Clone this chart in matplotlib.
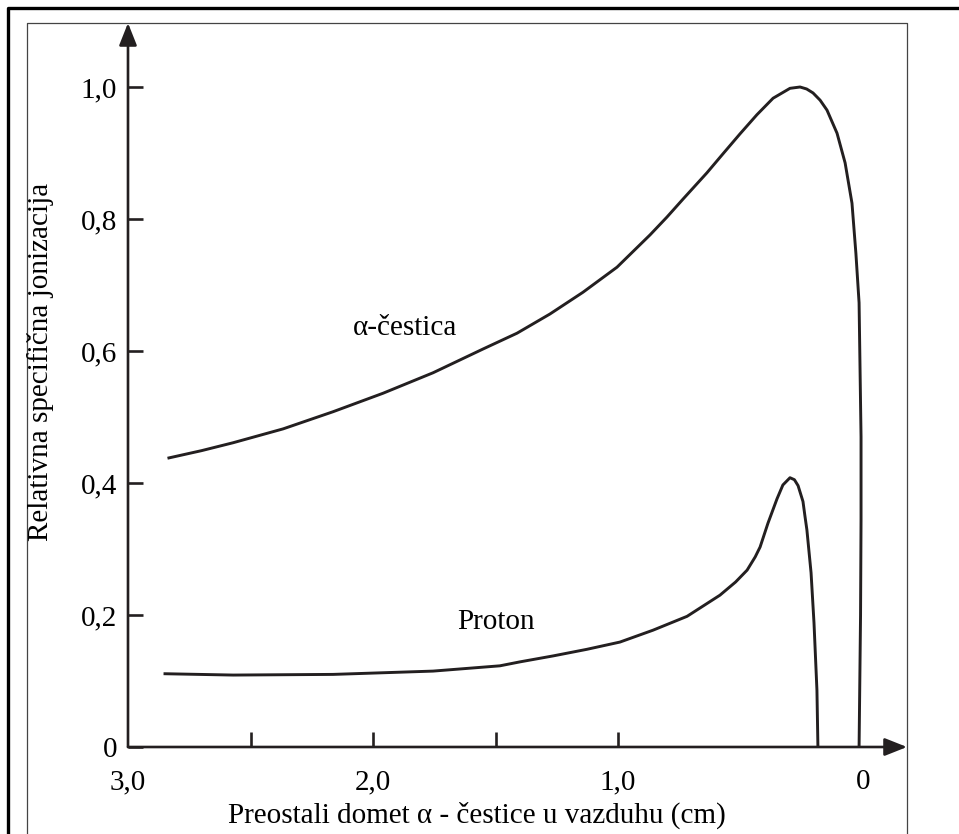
#!/usr/bin/env python3
"""
Relativna specifična jonizacija: α-čestica i proton (Braggove krive).
"""
import matplotlib
matplotlib.use("Agg")
import matplotlib.pyplot as plt
from matplotlib.lines import Line2D

plt.rcParams["font.family"] = ["Liberation Serif", "DejaVu Serif"]

# ===== podaci (očitani sa slike) =====
alpha_x = [2.833, 2.700, 2.571, 2.367, 2.163, 1.959, 1.755, 1.551, 1.412, 1.278,
           1.143, 1.004, 0.869, 0.800, 0.735, 0.637, 0.571, 0.502, 0.433, 0.367,
           0.298, 0.257, 0.230, 0.204, 0.175, 0.147, 0.106, 0.073, 0.045, 0.029,
           0.016, 0.012, 0.008, 0.008, 0.010, 0.016]
alpha_y = [0.438, 0.449, 0.461, 0.482, 0.508, 0.536, 0.567, 0.603, 0.627, 0.656,
           0.689, 0.727, 0.776, 0.803, 0.830, 0.870, 0.899, 0.929, 0.958, 0.983,
           0.998, 1.000, 0.997, 0.991, 0.980, 0.965, 0.930, 0.885, 0.824, 0.748,
           0.673, 0.571, 0.470, 0.344, 0.200, 0.0]

proton_x = [2.849, 2.571, 2.163, 1.755, 1.482, 1.400, 1.265, 1.127, 0.992, 0.857,
            0.718, 0.584, 0.520, 0.473, 0.440, 0.420, 0.388, 0.351, 0.327, 0.298,
            0.280, 0.265, 0.245, 0.237, 0.229, 0.212, 0.200, 0.188, 0.184]
proton_y = [0.111, 0.109, 0.110, 0.115, 0.123, 0.129, 0.138, 0.148, 0.159, 0.177,
            0.198, 0.230, 0.250, 0.268, 0.288, 0.303, 0.339, 0.376, 0.397, 0.408,
            0.405, 0.396, 0.372, 0.350, 0.329, 0.264, 0.188, 0.086, 0.0]

x_label_pos = [3.0, 2.0, 1.0, 0.0]
x_labels = ["3,0", "2,0", "1,0", "0"]
x_minor = [2.5, 2.0, 1.5, 1.0]
y_ticks = [0.0, 0.2, 0.4, 0.6, 0.8, 1.0]
y_labels = ["0", "0,2", "0,4", "0,6", "0,8", "1,0"]

FS = 21
W, H = 959, 834
INK = "#231f20"


def main():
    fig = plt.figure(figsize=(W / 100, H / 100), dpi=100)

    # okvir slike (debeli spoljni i tanki unutrašnji)
    def fline(xs, ys, **kw):
        fig.add_artist(Line2D([x / W for x in xs], [1 - y / H for y in ys],
                              transform=fig.transFigure, **kw))
    fline([8, 8, W + 5], [H + 5, 8, 8], color="black", lw=2.4)
    fline([27, 27, 907, 907], [H + 5, 23, 23, H + 5], color="#444444", lw=0.9)

    # osa: 3,0 -> px 128, 0 -> px 863 ; 0 -> py 747, 1,0 -> py 87
    ax = fig.add_axes([128 / W, (H - 747) / H, (907 - 128) / W, (747 - 23) / H])
    ax.set_xlim(3.0, 3.0 - (907 - 128) / 245)
    ax.set_ylim(0, (747 - 23) / 660)
    for s in ax.spines.values():
        s.set_visible(False)
    ax.patch.set_alpha(0)

    arrow = dict(arrowstyle="-|>,head_length=0.68,head_width=0.27", color=INK,
                 lw=1.9, shrinkA=0, shrinkB=0, mutation_scale=20)
    ax.annotate("", xy=(0, 1), xytext=(0, 0), xycoords="axes fraction", arrowprops=arrow)
    ax.annotate("", xy=(1, 0), xytext=(0, 0), xycoords="axes fraction", arrowprops=arrow)

    ax.plot(alpha_x, alpha_y, color=INK, lw=2.1, solid_joinstyle="round")
    ax.plot(proton_x, proton_y, color=INK, lw=2.1, solid_joinstyle="round")

    ax.xaxis.remove_overlapping_locs = False
    ax.set_xticks(x_label_pos)
    ax.set_xticklabels(x_labels)
    ax.set_xticks(x_minor, minor=True)
    ax.set_yticks(y_ticks)
    ax.set_yticklabels(y_labels)
    ax.tick_params(axis="x", which="major", length=0, pad=16, labelsize=FS)
    ax.tick_params(axis="x", which="minor", direction="in", length=11, width=1.9,
                   color=INK)
    ax.tick_params(axis="y", direction="in", length=11, width=1.9, pad=8,
                   labelsize=FS, color=INK)

    ax.text(1.869, 0.635, "α-čestica", fontsize=FS, ha="center", va="center")
    ax.text(1.498, 0.189, "Proton", fontsize=FS, ha="center", va="center")

    fig.text(41 / W, 1 - 362 / H, "Relativna specifična jonizacija", fontsize=FS,
             rotation=90, ha="center", va="center")
    fig.text(477 / W, 1 - 815 / H, "Preostali domet α - čestice u vazduhu (cm)",
             fontsize=FS, ha="center", va="center")

    fig.savefig("out.png", dpi=100)
    plt.close(fig)


if __name__ == "__main__":
    main()
